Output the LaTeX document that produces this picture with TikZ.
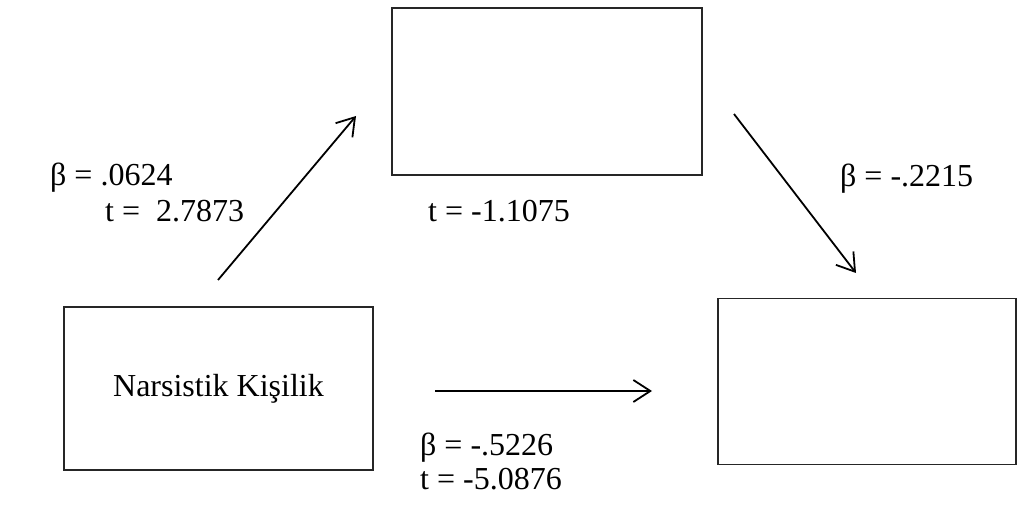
\documentclass[tikz,border=0pt]{standalone}
\usepackage{fontspec}
\setmainfont{Liberation Serif}
\newfontfamily\tnr{Liberation Serif}
\usetikzlibrary{arrows.meta}
\begin{document}
\begin{tikzpicture}[x=1pt,y=-1pt,
  box/.style={draw=black!85,line width=1.2pt,rectangle,inner sep=0pt},
  txt/.style={font=\tnr\fontsize{32}{36}\selectfont},
  lbl/.style={txt,anchor=base west,inner sep=0pt},
  arr/.style={line width=1.8pt,-{Straight Barb[length=17pt,width=22pt,line width=1.8pt]}}]
\useasboundingbox (0,0) rectangle (1017,505);
% boxes
\node[box,minimum width=310pt,minimum height=167pt] (med) at (547,91.5) {};
\node[box,txt,minimum width=309pt,minimum height=163pt] (nk) at (218.5,388.5) {Narsistik Kişilik};
\node[box,minimum width=298pt,minimum height=166pt] (out) at (867,381.5) {};
% arrow end points
\coordinate (a1s) at (218,280);
\coordinate (a1e) at (356,116);
\coordinate (a2s) at (734,114);
\coordinate (a2e) at (856,273);
\coordinate (a3s) at (435,391);
\coordinate (a3e) at (652,391);
\draw[arr] (a1s) -- (a1e);
\draw[arr] (a2s) -- (a2e);
\draw[arr] (a3s) -- (a3e);
% labels
\node[lbl] (b1) at (50,186) {β = .0624};
\node[lbl] (t1) at (105,222) {t =\ \ 2.7873};
\node[lbl] (t2) at (428,222) {t = -1.1075};
\node[lbl] (b2) at (840,187) {β = -.2215};
\node[lbl] (b3) at (420,455) {β = -.5226};
\node[lbl] (t3) at (420,489) {t = -5.0876};
\end{tikzpicture}
\end{document}
